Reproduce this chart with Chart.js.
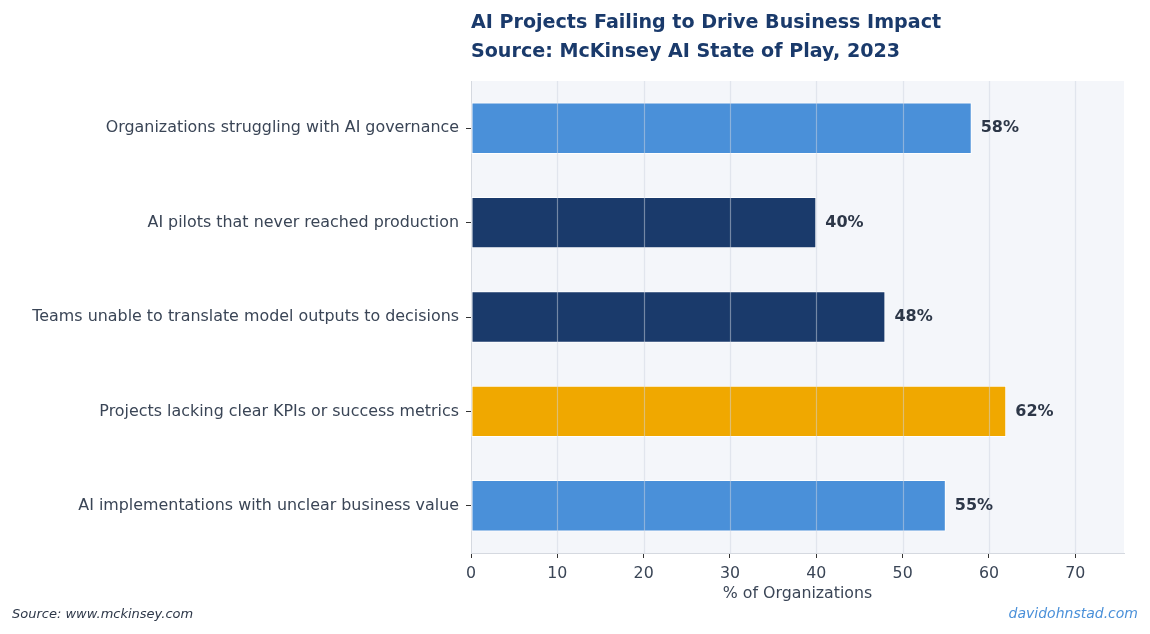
<!DOCTYPE html>
<html><head><meta charset="utf-8">
<script src="https://cdn.jsdelivr.net/npm/chart.js@4"></script>
<style>html,body{margin:0;padding:0;background:#fff;}#wrap{width:1150px;height:634px;position:relative;}</style>
</head><body><div id="wrap"><canvas id="c" width="1150" height="634"></canvas></div>
<script>
const categories = [
  "Organizations struggling with AI governance",
  "AI pilots that never reached production",
  "Teams unable to translate model outputs to decisions",
  "Projects lacking clear KPIs or success metrics",
  "AI implementations with unclear business value"
];
const values = [58, 40, 48, 62, 55];
const barColors = ["#4A90D9", "#1A3A6B", "#1A3A6B", "#F0A800", "#4A90D9"];
const xTicks = [0, 10, 20, 30, 40, 50, 60, 70];
const titleLines = ["AI Projects Failing to Drive Business Impact", "Source: McKinsey AI State of Play, 2023"];
const xTitle = "% of Organizations";
const footLeft = "Source: www.mckinsey.com";
const footRight = "davidohnstad.com";

const FONT = "'DejaVu Sans', sans-serif";
const AREA = {left: 471, right: 1124, top: 81, bottom: 553};

const deco = {
  id: 'deco',
  beforeDraw(chart) {
    const {ctx, chartArea: a} = chart;
    ctx.save();
    ctx.fillStyle = '#F4F6FA';
    ctx.fillRect(a.left, a.top, a.right - a.left, a.bottom - a.top);
    ctx.restore();
  },
  afterDatasetsDraw(chart) {
    const {ctx, chartArea: a, scales} = chart;
    ctx.save();
    ctx.strokeStyle = 'rgba(205,212,224,0.5)';
    ctx.lineWidth = 1.2;
    xTicks.forEach(v => {
      if (v === 0) return;
      const x = Math.round(scales.x.getPixelForValue(v)) + 0.5;
      ctx.beginPath();
      ctx.moveTo(x, a.top);
      ctx.lineTo(x, a.bottom);
      ctx.stroke();
    });
    ctx.restore();
  },
  afterDraw(chart) {
    const {ctx, chartArea: a, scales} = chart;
    ctx.save();
    ctx.fillStyle = '#1A3A6B';
    ctx.font = "bold 19.1px " + FONT;
    ctx.textBaseline = 'middle';
    ctx.textAlign = 'left';
    ctx.fillText(titleLines[0], a.left, 23);
    ctx.fillText(titleLines[1], a.left, 52);
    ctx.font = "bold 16px " + FONT;
    ctx.fillStyle = '#2D3748';
    const meta = chart.getDatasetMeta(0);
    meta.data.forEach((bar, i) => {
      ctx.fillText(values[i] + '%', scales.x.getPixelForValue(values[i]) + 9, bar.y);
    });
    ctx.font = "15.8px " + FONT;
    ctx.fillStyle = '#3A4556';
    ctx.textAlign = 'center';
    ctx.fillText(xTitle, (a.left + a.right) / 2, 594);
    ctx.font = "italic 13px " + FONT;
    ctx.fillStyle = '#2D3748';
    ctx.textAlign = 'left';
    ctx.fillText(footLeft, 12, 615);
    ctx.font = "italic 14px " + FONT;
    ctx.fillStyle = '#4A90D9';
    ctx.textAlign = 'right';
    ctx.fillText(footRight, 1138, 614);
    ctx.restore();
  }
};

new Chart(document.getElementById('c'), {
  type: 'bar',
  data: {
    labels: categories,
    datasets: [{
      data: values,
      backgroundColor: barColors,
      borderColor: '#ffffff',
      borderWidth: 1,
      borderSkipped: false,
      barPercentage: 0.545,
      categoryPercentage: 1.0
    }]
  },
  options: {
    indexAxis: 'y',
    responsive: false,
    animation: false,
    events: [],
    layout: {padding: {top: AREA.top, right: 1150 - AREA.right, left: 0, bottom: 0}},
    plugins: {legend: {display: false}, tooltip: {enabled: false}, title: {display: false}},
    scales: {
      x: {
        type: 'linear', min: 0, max: 62 * 1.22,
        afterBuildTicks(s) { s.ticks = xTicks.map(v => ({value: v})); },
        afterFit(s) { s.height = 634 - AREA.bottom; },
        grid: {drawOnChartArea: false, tickColor: '#333', tickLength: 5},
        border: {display: true, color: '#D5D9E0', width: 1},
        ticks: {color: '#3A4556', font: {family: FONT, size: 15.8}, padding: 6}
      },
      y: {
        type: 'category', offset: true,
        afterFit(s) { s.width = AREA.left; },
        grid: {display: true, drawOnChartArea: false, tickColor: '#333', tickLength: 5, offset: false},
        border: {display: true, color: '#D5D9E0', width: 1},
        ticks: {color: '#3A4556', font: {family: FONT, size: 15.9}, padding: 7}
      }
    }
  },
  plugins: [deco]
});
</script></body></html>
